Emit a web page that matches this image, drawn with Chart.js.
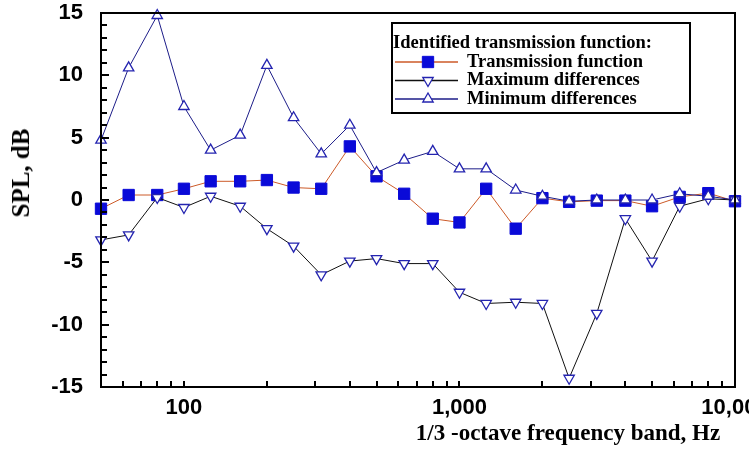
<!DOCTYPE html>
<html>
<head>
<meta charset="utf-8">
<script src="https://cdn.jsdelivr.net/npm/chart.js@4/dist/chart.umd.min.js"></script>
<style>
  body { margin: 0; background: #fff; }
  #wrap { position: relative; width: 749px; height: 451px; overflow: hidden; }
  .axis-title { position: absolute; font-family: "Liberation Serif", serif; font-weight: bold; color: #000; white-space: nowrap; }
  #xTitle { font-size: 23px; left: 568px; top: 433px; transform: translate(-50%, -50%); }
  #yTitle { font-size: 25px; left: 21px; top: 173px; transform: translate(-50%, -50%) rotate(-90deg); }
</style>
</head>
<body>
<div id="wrap">
  <canvas id="splChart"></canvas>
  <div class="axis-title" id="xTitle">1/3 -octave frequency band, Hz</div>
  <div class="axis-title" id="yTitle">SPL, dB</div>
</div>
<script>
// 1/3-octave band centre frequencies, Hz
const bands = [50, 63, 80, 100, 125, 160, 200, 250, 315, 400, 500, 630, 800, 1000, 1250, 1600, 2000, 2500, 3150, 4000, 5000, 6300, 8000, 10000];

// values, dB
const transmission = [-0.7, 0.4, 0.4, 0.9, 1.5, 1.5, 1.6, 1.0, 0.9, 4.3, 1.9, 0.5, -1.5, -1.8, 0.9, -2.3, 0.15, -0.15, -0.05, -0.05, -0.5, 0.25, 0.55, -0.1];
const maxDiff = [-3.2, -2.8, 0.2, -0.6, 0.3, -0.5, -2.3, -3.7, -6.0, -4.9, -4.7, -5.1, -5.1, -7.4, -8.3, -8.2, -8.3, -14.3, -9.1, -1.5, -4.9, -0.5, 0.1, 0.0];
const minDiff = [4.8, 10.6, 14.8, 7.5, 4.0, 5.2, 10.8, 6.6, 3.7, 6.0, 2.2, 3.2, 3.9, 2.5, 2.5, 0.8, 0.3, -0.1, 0.0, 0.0, 0.0, 0.5, 0.3, 0.0];

// axis ticks
const xTicks = [50, 60, 70, 80, 90, 100, 200, 300, 400, 500, 600, 700, 800, 900, 1000, 2000, 3000, 4000, 5000, 6000, 7000, 8000, 9000, 10000];
const xLabelValues = [100, 1000, 10000];
const xLabelTexts = ["100", "1,000", "10,000"];
const yLabelStep = 5;

const legendTitle = "Identified transmission function:";

const toPoints = (vals) => vals.map((v, i) => ({ x: bands[i], y: v }));

// box around the plot + ticks pointing inwards
const frameTicks = {
  id: "frameTicks",
  afterDraw(chart) {
    const { ctx, chartArea: a, scales } = chart;
    ctx.save();
    ctx.strokeStyle = "#000";
    ctx.lineWidth = 2;
    ctx.beginPath();
    scales.x.ticks.forEach((t) => {
      const px = Math.round(scales.x.getPixelForValue(t.value));
      ctx.moveTo(px, a.bottom);
      ctx.lineTo(px, a.bottom - 6);
    });
    scales.y.ticks.forEach((t) => {
      const py = Math.round(scales.y.getPixelForValue(t.value));
      const len = t.value % yLabelStep === 0 ? 8 : 6;
      ctx.moveTo(a.left, py);
      ctx.lineTo(a.left + len, py);
    });
    ctx.stroke();
    ctx.strokeRect(a.left, a.top, a.right - a.left, a.bottom - a.top);
    ctx.restore();
  },
};

// legend drawn in a box inside the plot
const boxLegend = {
  id: "boxLegend",
  afterDraw(chart) {
    const { ctx, chartArea: a } = chart;
    const x0 = a.left + 291, y0 = a.top + 10, w = 298, h = 90;
    ctx.save();
    ctx.fillStyle = "#fff";
    ctx.fillRect(x0, y0, w, h);
    ctx.strokeStyle = "#000";
    ctx.lineWidth = 2;
    ctx.strokeRect(x0, y0, w, h);
    ctx.fillStyle = "#000";
    ctx.font = "bold 18.5px 'Liberation Serif'";
    ctx.textBaseline = "middle";
    ctx.fillText(legendTitle, x0 + 1, y0 + 20);
    chart.data.datasets.forEach((ds, i) => {
      const cy = y0 + 39 + i * 18.5;
      ctx.strokeStyle = ds.borderColor;
      ctx.lineWidth = 1.5;
      ctx.beginPath();
      ctx.moveTo(x0 + 3, cy);
      ctx.lineTo(x0 + 66, cy);
      ctx.stroke();
      ctx.fillStyle = ds.pointBackgroundColor;
      ctx.strokeStyle = ds.pointBorderColor;
      ctx.lineWidth = ds.pointBorderWidth;
      Chart.helpers.drawPoint(ctx, {
        pointStyle: ds.pointStyle,
        radius: ds.pointRadius,
        rotation: ds.pointRotation || 0,
        borderWidth: ds.pointBorderWidth,
      }, x0 + 36, cy);
      ctx.fillStyle = "#000";
      ctx.fillText(ds.label, x0 + 75, cy);
    });
    ctx.restore();
  },
};

new Chart(document.getElementById("splChart"), {
  type: "line",
  data: {
    datasets: [
      {
        label: "Transmission function",
        data: toPoints(transmission),
        borderColor: "#cc5a28",
        borderWidth: 1,
        pointStyle: "rect",
        pointRadius: 8,
        pointBackgroundColor: "#0a0ad8",
        pointBorderColor: "#0a0ad8",
        pointBorderWidth: 1,
        order: 3,
        clip: false,
      },
      {
        label: "Maximum differences",
        data: toPoints(maxDiff),
        borderColor: "#101010",
        borderWidth: 1,
        pointStyle: "triangle",
        pointRotation: 180,
        pointRadius: 6,
        pointBackgroundColor: "#fff",
        pointBorderColor: "#2424b0",
        pointBorderWidth: 1.3,
        order: 2,
        clip: false,
      },
      {
        label: "Minimum differences",
        data: toPoints(minDiff),
        borderColor: "#1c1c88",
        borderWidth: 1,
        pointStyle: "triangle",
        pointRadius: 6,
        pointBackgroundColor: "#fff",
        pointBorderColor: "#2424b0",
        pointBorderWidth: 1.3,
        order: 1,
        clip: false,
      },
    ],
  },
  options: {
    responsive: true,
    maintainAspectRatio: false,
    animation: false,
    events: [],
    layout: { padding: { top: 13, right: 14, left: 0, bottom: 0 } },
    plugins: { legend: { display: false }, tooltip: { enabled: false } },
    scales: {
      x: {
        type: "logarithmic",
        min: 50,
        max: 10000,
        grid: { display: false, drawTicks: false },
        border: { display: false },
        afterBuildTicks: (s) => { s.ticks = xTicks.map((v) => ({ value: v })); },
        afterFit: (s) => { s.height = 64; s.paddingLeft = 0; s.paddingRight = 0; },
        ticks: {
          autoSkip: false,
          maxRotation: 0,
          padding: 8,
          color: "#000",
          font: { family: "'Liberation Sans'", size: 22, weight: "bold" },
          callback: (v) => {
            const k = xLabelValues.indexOf(v);
            return k >= 0 ? xLabelTexts[k] : "";
          },
        },
      },
      y: {
        min: -15,
        max: 15,
        grid: { display: false, drawTicks: false },
        border: { display: false },
        afterFit: (s) => { s.width = 101; s.paddingTop = 0; s.paddingBottom = 0; },
        ticks: {
          stepSize: 1,
          autoSkip: false,
          padding: 18,
          color: "#000",
          font: { family: "'Liberation Sans'", size: 22, weight: "bold" },
          callback: (v) => (v % yLabelStep === 0 ? v : ""),
        },
      },
    },
  },
  plugins: [frameTicks, boxLegend],
});
</script>
</body>
</html>
